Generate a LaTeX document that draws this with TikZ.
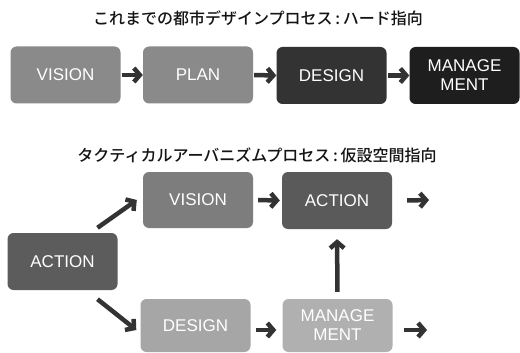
\documentclass[tikz,border=0pt]{standalone}
\usepackage{fontspec}
\setmainfont{Liberation Sans}
\newfontfamily\jpfont{Noto Sans CJK JP Medium}
\usetikzlibrary{arrows.meta}
\definecolor{arrowgray}{HTML}{333333}
\tikzset{
  box/.style={rounded corners=6pt, minimum width=110pt, minimum height=57pt,
    inner sep=0pt, text=white, align=center,
    font=\fontsize{17}{19}\selectfont},
  title/.style={font=\jpfont\fontsize{16}{18}\selectfont, text={rgb,255:red,20;green,20;blue,20}, inner sep=0pt},
  arr/.style={draw=arrowgray, line width=4.5pt,
    -{Straight Barb[length=6pt, width=14pt, line width=4.5pt]}},
}
\begin{document}
\begin{tikzpicture}[x=1pt,y=-1pt]
  \useasboundingbox[fill=white] (0,0) rectangle (520,353);

  % conventional process
  \node[title] (t1) at (258,18) {これまでの都市デザインプロセス\,:\,ハード指向};
  \node[box, fill={rgb,255:red,138;green,138;blue,138}] (v1) at (65.5,75) {VISION};
  \node[box, fill={rgb,255:red,138;green,138;blue,138}] (p1) at (198,75) {PLAN};
  \node[box, fill={rgb,255:red,51;green,51;blue,51}] (d1) at (331.5,75.5) {DESIGN};
  \node[box, fill={rgb,255:red,30;green,30;blue,30}] (m1) at (464.5,75.5) {MANAGE\\MENT};
  \draw[arr, shorten <=1pt] (v1.east) -- (p1.west);
  \draw[arr, shorten <=1pt] (p1.east) -- (d1.west);
  \draw[arr, shorten <=1pt] (d1.east) -- (m1.west);

  % tactical urbanism process
  \node[title] (t2) at (257,155) {タクティカルアーバニズムプロセス\,:\,仮設空間指向};
  \node[box, fill={rgb,255:red,92;green,92;blue,92}] (a0) at (62.5,261.5) {ACTION};
  \node[box, fill={rgb,255:red,125;green,125;blue,125}, minimum height=56pt] (v2) at (198,200) {VISION};
  \node[box, fill={rgb,255:red,90;green,90;blue,90}] (a2) at (337,200.5) {ACTION};
  \node[box, fill={rgb,255:red,166;green,166;blue,166}, minimum height=53pt] (d2) at (195.5,325.5) {DESIGN};
  \node[box, fill={rgb,255:red,176;green,176;blue,176}, minimum height=53pt] (m2) at (337.5,325.5) {MANAGE\\MENT};

  \coordinate (outA) at (429,200);
  \coordinate (outM) at (427,330);

  \draw[arr] ([xshift=35pt,yshift=5pt]a0.north) -- ([xshift=-6pt]v2.west);
  \draw[arr] ([xshift=35pt,yshift=-9pt]a0.south) -- ([xshift=-4pt,yshift=-4.5pt]d2.west);
  \draw[arr, shorten <=5pt, shorten >=2pt] (v2.east) -- (a2.west);
  \draw[arr, shorten <=5pt, shorten >=6pt] ([yshift=-4.5pt]d2.east) -- ([yshift=-4.5pt]m2.west);
  \draw[arr, shorten <=7pt, shorten >=10pt] (m2.north) -- (a2.south);
  \draw[arr] ([xshift=15pt]a2.east) -- (outA);
  \draw[arr] ([xshift=11pt,yshift=-4.5pt]m2.east) -- (outM);
\end{tikzpicture}
\end{document}
